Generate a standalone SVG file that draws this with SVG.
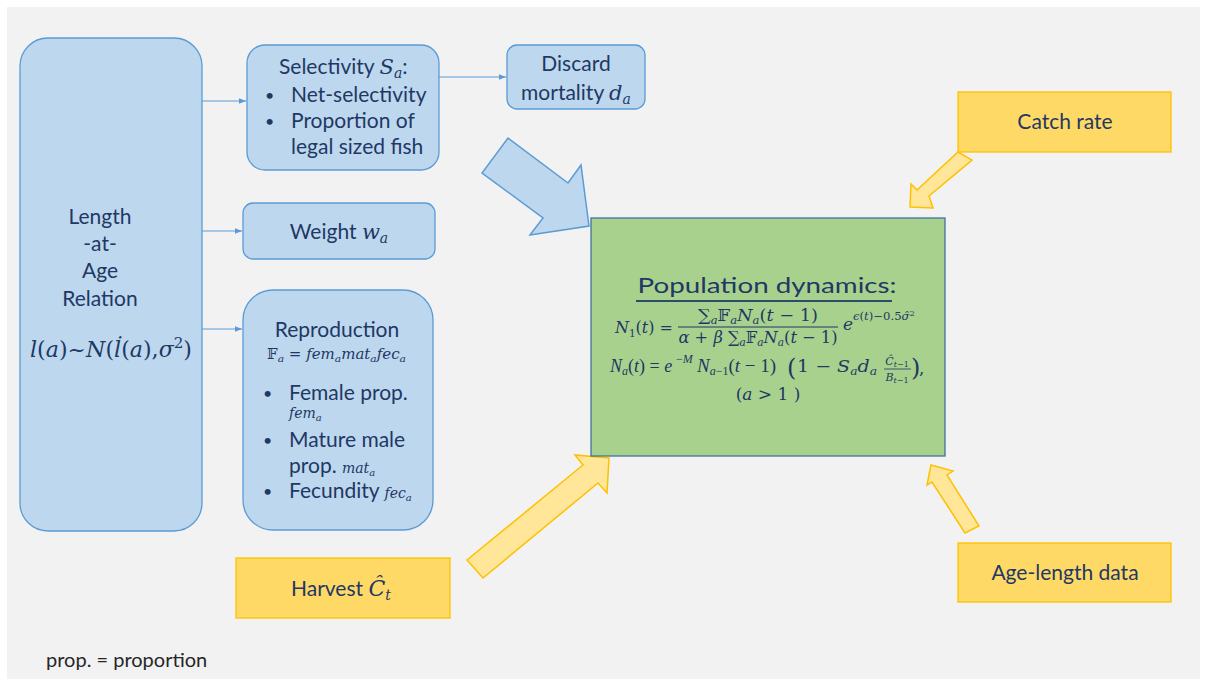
<svg xmlns="http://www.w3.org/2000/svg" width="1208" height="679" viewBox="0 0 1208 679">
<defs>
<style>
.bg{fill:#f2f2f2}
.blue{fill:#bdd7ee;stroke:#5b9bd5;stroke-width:1.3}
.yel{fill:#ffd966;stroke:#ffc000;stroke-width:1.3}
.arrB{fill:#bdd7ee;stroke:#5b9bd5;stroke-width:1.5;stroke-linejoin:miter}
.arrY{fill:#ffe699;stroke:#ffc000;stroke-width:1.5}
.green{fill:#a9d18e;stroke:#41719c;stroke-width:1.3}
.t{font-family:Lato,"Open Sans",sans-serif;font-size:21px;fill:#1f3864}
.b{font-size:16px}
.c{text-anchor:middle}
.m{font-family:"DejaVu Serif","Liberation Serif",serif;font-style:italic;fill:#1f3864}
.lm{font-family:"Liberation Serif","DejaVu Serif",serif;font-style:italic;fill:#1f3864}
.u{font-style:normal}
.conn{stroke:#5b9bd5;stroke-width:1;fill:none;marker-end:url(#ah)}
.note{font-family:Lato,"Open Sans",sans-serif;font-size:20px;fill:#262626}
</style>
<marker id="ah" viewBox="0 0 10 10" refX="10" refY="5" markerWidth="7" markerHeight="7" orient="auto" markerUnits="userSpaceOnUse">
<path d="M0,1 L10,5 L0,9 z" fill="#5b9bd5"/>
</marker>
</defs>
<rect class="bg" x="7" y="7" width="1193" height="672"/>

<g id="connectors">
<path class="conn" d="M202,101 H246"/>
<path class="conn" d="M202,231 H242"/>
<path class="conn" d="M202,329 H242"/>
<path class="conn" d="M439,77 H506"/>
<polygon class="arrB" points="508,138 568,183 581,165 589,226 530,235 543,218 482,173"/>
<polygon class="arrY" points="958,152 972,160 929,196 933,208 910,207 911,184 917,190"/>
<polygon class="arrY" points="931,465 953,471 947,475 979,526 965,533 932,482 927,485"/>
<polygon class="arrY" points="467,560 483,578 598,483 607,493 609,458 575,455 583,465"/>
</g>

<g id="length-at-age">
<rect class="blue" x="20" y="38" width="182" height="493" rx="28"/>
<text class="t c" x="100" y="224">Length</text>
<text class="t c" x="100" y="251">-at-</text>
<text class="t c" x="100" y="278">Age</text>
<text class="t c" x="100" y="306">Relation</text>
<text class="m" x="111" y="357" text-anchor="middle" font-size="22" textLength="162" lengthAdjust="spacingAndGlyphs">l<tspan class="u">(</tspan>a<tspan class="u">)~</tspan>N<tspan class="u">(</tspan>l&#775;<tspan class="u">(</tspan>a<tspan class="u">),</tspan>σ<tspan class="u" font-size="15" dy="-9">2</tspan><tspan class="u" dy="9">)</tspan></text>
</g>

<g id="selectivity">
<rect class="blue" x="247" y="45" width="192" height="125" rx="18"/>
<text class="t" x="279" y="74">Selectivity <tspan class="m" font-size="21">S</tspan><tspan class="m" font-size="14" dy="4">a</tspan><tspan dy="-4">:</tspan></text>
<text class="t b" x="265" y="101">•</text>
<text class="t" x="291" y="102">Net-selectivity</text>
<text class="t b" x="265" y="127">•</text>
<text class="t" x="291" y="128">Proportion of</text>
<text class="t" x="291" y="154">legal sized fish</text>
</g>

<g id="discard">
<rect class="blue" x="507" y="45" width="138" height="64" rx="10"/>
<text class="t c" x="576" y="71">Discard</text>
<text class="t c" x="576" y="100">mortality <tspan class="m" font-size="21">d</tspan><tspan class="m" font-size="14" dy="4">a</tspan></text>
</g>

<g id="weight">
<rect class="blue" x="243" y="203" width="192" height="56" rx="10"/>
<text class="t c" x="339" y="239">Weight <tspan class="m" font-size="21">w</tspan><tspan class="m" font-size="14" dy="4">a</tspan></text>
</g>

<g id="reproduction">
<rect class="blue" x="243" y="290" width="190" height="240" rx="30"/>
<text class="t c" x="337" y="337">Reproduction</text>
<text class="m" x="267" y="359" font-size="14" textLength="139" lengthAdjust="spacingAndGlyphs"><tspan class="u">𝔽</tspan><tspan font-size="10" dy="3">a</tspan><tspan class="u" dy="-3"> = </tspan>fem<tspan font-size="10" dy="3">a</tspan><tspan dy="-3">mat</tspan><tspan font-size="10" dy="3">a</tspan><tspan dy="-3">fec</tspan><tspan font-size="10" dy="3">a</tspan></text>
<text class="t b" x="263" y="399">•</text>
<text class="t" x="289" y="400">Female prop.</text>
<text class="m" x="289" y="418" font-size="14">fem<tspan font-size="10" dy="3">a</tspan></text>
<text class="t b" x="263" y="446">•</text>
<text class="t" x="289" y="447">Mature male</text>
<text class="t" x="289" y="473">prop. <tspan class="m" font-size="14">mat</tspan><tspan class="m" font-size="10" dy="3">a</tspan></text>
<text class="t b" x="263" y="497">•</text>
<text class="t" x="289" y="498">Fecundity <tspan class="m" font-size="14">fec</tspan><tspan class="m" font-size="10" dy="3">a</tspan></text>
</g>

<g id="population-dynamics">
<rect class="green" x="591" y="218" width="354" height="238"/>
<text class="t c" x="767" y="293" font-size="29" textLength="259" lengthAdjust="spacingAndGlyphs" fill="#002060">Population dynamics:</text>
<line x1="636" y1="301" x2="892" y2="301" stroke="#002060" stroke-width="1.6"/>
<text class="m" x="615" y="333" font-size="17" textLength="58" lengthAdjust="spacingAndGlyphs">N<tspan class="u" font-size="11" dy="4">1</tspan><tspan class="u" dy="-4">(</tspan>t<tspan class="u">) =</tspan></text>
<line x1="678" y1="327" x2="838" y2="327" stroke="#1f3864" stroke-width="1"/>
<text class="m" x="758" y="321" font-size="17" text-anchor="middle" textLength="120" lengthAdjust="spacingAndGlyphs"><tspan class="u">∑</tspan><tspan font-size="11" dy="3">a</tspan><tspan class="u" dy="-3">𝔽</tspan><tspan font-size="11" dy="3">a</tspan><tspan dy="-3">N</tspan><tspan font-size="11" dy="3">a</tspan><tspan class="u" dy="-3">(</tspan>t<tspan class="u"> − 1)</tspan></text>
<text class="m" x="758" y="343" font-size="17" text-anchor="middle" textLength="159" lengthAdjust="spacingAndGlyphs">α<tspan class="u"> + </tspan>β<tspan class="u"> ∑</tspan><tspan font-size="11" dy="3">a</tspan><tspan class="u" dy="-3">𝔽</tspan><tspan font-size="11" dy="3">a</tspan><tspan dy="-3">N</tspan><tspan font-size="11" dy="3">a</tspan><tspan class="u" dy="-3">(</tspan>t<tspan class="u"> − 1)</tspan></text>
<text class="m" x="843" y="330" font-size="17">e</text>
<text class="m" x="853" y="320" font-size="11" textLength="62" lengthAdjust="spacingAndGlyphs">ϵ<tspan class="u">(</tspan>t<tspan class="u">)−0.5</tspan>σ&#770;<tspan class="u" font-size="8" dy="-4">2</tspan></text>
<text class="lm" x="610" y="372" font-size="18">N<tspan font-size="12" dy="3">a</tspan><tspan class="u" dy="-3">(</tspan>t<tspan class="u">) = </tspan>e</text>
<text class="lm" x="676" y="363" font-size="12"><tspan class="u">−</tspan>M</text>
<text class="lm" x="697" y="372" font-size="19">N<tspan font-size="12" dy="3">a</tspan><tspan class="u" font-size="12">−1</tspan><tspan class="u" dy="-3">(</tspan>t<tspan class="u"> − 1)</tspan></text>
<text class="m" x="787" y="376" font-size="24" style="font-style:normal">(</text>
<text class="m" x="797" y="372" font-size="17" textLength="80" lengthAdjust="spacingAndGlyphs"><tspan class="u">1 − </tspan>S<tspan font-size="11" dy="3">a</tspan><tspan dy="-3">d</tspan><tspan font-size="11" dy="3">a</tspan></text>
<text class="m" x="897" y="365" font-size="11" text-anchor="middle">C&#770;<tspan font-size="8" dy="2">t</tspan><tspan class="u" font-size="8">−1</tspan></text>
<line x1="884" y1="369" x2="911" y2="369" stroke="#1f3864" stroke-width="0.8"/>
<text class="m" x="897" y="381" font-size="11" text-anchor="middle">B<tspan font-size="8" dy="2">t</tspan><tspan class="u" font-size="8">−1</tspan></text>
<text class="m" x="911" y="376" font-size="24" style="font-style:normal">)</text>
<text class="m" x="919" y="374" font-size="17" style="font-style:normal">,</text>
<text class="m" x="768" y="400" font-size="17" text-anchor="middle"><tspan class="u">(</tspan>a<tspan class="u"> &gt; 1 )</tspan></text>
</g>

<g id="catch-rate">
<rect class="yel" x="958" y="92" width="213" height="60"/>
<text class="t c" x="1065" y="129">Catch rate</text>
</g>

<g id="age-length-data">
<rect class="yel" x="958" y="543" width="213" height="59"/>
<text class="t c" x="1065" y="580">Age-length data</text>
</g>

<g id="harvest">
<rect class="yel" x="236" y="558" width="214" height="60"/>
<text class="t" x="291" y="596">Harvest <tspan class="m" font-size="22">C&#770;</tspan><tspan class="m" font-size="14" dy="4">t</tspan></text>
</g>

<text class="note" x="46" y="667">prop. = proportion</text>
</svg>
